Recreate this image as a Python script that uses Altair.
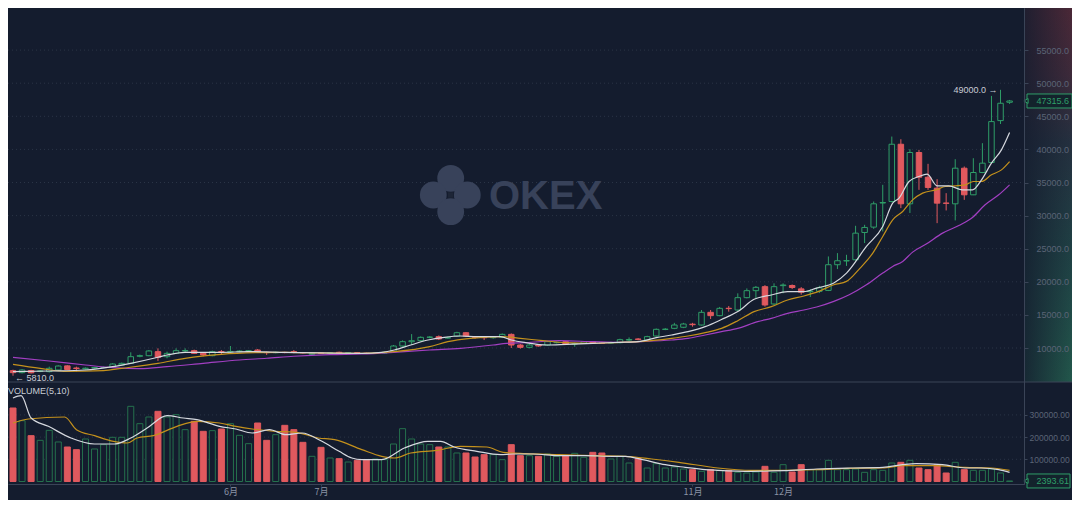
import altair as alt
import pandas as pd

# ---------------- data (3-day candles starting 2020-03-21) ----------------
start_date = "2020-03-21"
candle_days = 3
open_ = [6576, 6274, 6600, 6450, 6430, 6680, 7300, 6980, 6850, 6980,
         7050, 7080, 7430, 7680, 8750, 8840, 9450, 8690, 9190, 9550,
         9600, 9190, 8840, 9450, 9400, 9450, 9500, 9700, 9350, 9290,
         9340, 9450, 9300, 9050, 9220, 9210, 9350, 9250, 9300, 9200,
         9180, 9220, 9446, 10302, 10950, 11100, 11610, 11712, 11500, 11810,
         12310, 11650, 11650, 11550, 11610, 12060, 10450, 10100, 10450, 10450,
         10800, 10960, 10600, 10700, 10950, 10730, 10750, 10800, 11200, 11360,
         11208, 11813, 12800, 12971, 13130, 13600, 13474, 15388, 14884, 16000,
         15740, 17603, 18661, 19265, 16647, 19420, 19440, 18930, 18510, 18560,
         18700, 22580, 23150, 23330, 27450, 28260, 31900, 32130, 40780, 31780,
         39530, 35800, 34150, 31900, 31780, 37160, 33140, 36510, 38020, 44350,
         47120]
high = [6727, 6800, 6700, 6700, 7180, 7380, 7400, 7180, 7050, 7150,
        7200, 7700, 7800, 9350, 9000, 9700, 9950, 9450, 9950, 9950,
        9750, 9300, 9600, 9700, 10300, 9650, 9700, 9850, 9450, 9450,
        9420, 9700, 9400, 9300, 9300, 9350, 9450, 9350, 9400, 9300,
        9300, 9450, 10450, 11150, 12100, 11750, 11800, 11900, 11700, 12450,
        12400, 11750, 11750, 11800, 12200, 12200, 10600, 10600, 10550, 11050,
        10950, 11050, 10800, 11050, 11050, 10850, 10950, 11400, 11600, 11500,
        11850, 12950, 13000, 13800, 13800, 13800, 15740, 15740, 16200, 16340,
        18258, 19000, 19365, 19500, 19770, 19770, 19600, 19200, 18900, 19400,
        23830, 24330, 24080, 28460, 28610, 32130, 34650, 41940, 41540, 40030,
        39930, 37820, 35500, 33390, 38520, 37420, 38670, 40940, 48080, 49000,
        47470]
low = [5810, 6150, 6150, 6350, 6300, 6600, 6650, 6430, 6750, 6900,
       6950, 7000, 7350, 7600, 8600, 8750, 8050, 8440, 9100, 9350,
       9100, 8750, 8750, 9050, 9200, 9350, 9400, 9250, 8950, 9200,
       9200, 9200, 9150, 8950, 9100, 9150, 9150, 9150, 9200, 9100,
       9100, 9150, 9300, 10200, 10450, 11000, 11450, 11200, 11400, 11700,
       11650, 11400, 11200, 11400, 11500, 10000, 9900, 9950, 10200, 10350,
       10700, 10450, 10200, 10600, 10600, 10600, 10650, 10700, 10950, 11150,
       11100, 11700, 12700, 12850, 13000, 13220, 13400, 14380, 14800, 15490,
       15600, 17500, 17503, 16250, 16500, 18260, 18900, 18050, 17700, 18300,
       18600, 21920, 22400, 23200, 25850, 28000, 27600, 32000, 31130, 30400,
       33890, 33890, 28860, 30780, 29270, 32380, 33100, 36410, 37900, 43840,
       46870]
close = [6274, 6677, 6250, 6550, 6930, 7280, 6750, 6900, 6950, 7050,
         7080, 7580, 7680, 8690, 8840, 9550, 8600, 9190, 9600, 9620,
         9190, 8940, 9450, 9400, 9480, 9550, 9600, 9350, 9290, 9350,
         9300, 9380, 9280, 9200, 9200, 9280, 9250, 9280, 9280, 9180,
         9220, 9350, 10302, 10957, 11100, 11610, 11650, 11360, 11560, 12310,
         11810, 11620, 11550, 11650, 12060, 10450, 10100, 10450, 10300, 10960,
         10850, 10600, 10680, 10950, 10720, 10700, 10820, 11260, 11280, 11300,
         11712, 12820, 12850, 13474, 13625, 13520, 15388, 14885, 15992, 15950,
         17603, 18661, 19165, 16496, 19265, 19516, 19140, 18430, 18600, 19100,
         22580, 23180, 23200, 27350, 28210, 31780, 31980, 40780, 31780, 39530,
         35800, 34250, 31880, 31850, 37160, 33140, 36510, 37920, 44200, 46970,
         47315.6]
volume = [331100, 274000, 206500, 185400, 230500, 178000, 155400, 143400, 191500, 146400,
          165900, 199000, 199000, 338600, 260500, 290600, 316100, 290600, 301100, 233500,
          271100, 226000, 229000, 236500, 260500, 208000, 170400, 263500, 185400, 211000,
          253000, 233500, 176400, 113400, 153900, 105900, 102900, 87800, 95400, 98400,
          101400, 98400, 168900, 238000, 191500, 168900, 165900, 155400, 155400, 128400,
          128400, 110400, 120900, 120900, 98400, 165900, 116400, 116400, 113400, 123900,
          113400, 116400, 126900, 108900, 131400, 128400, 101400, 113400, 83300, 102900,
          60800, 80300, 60800, 65300, 56300, 53300, 45800, 53300, 50300, 50300,
          41300, 38300, 42800, 68300, 41300, 75800, 42800, 75800, 53300, 53300,
          95400, 53300, 53300, 56300, 41300, 53300, 50300, 83300, 86400, 95400,
          60800, 53300, 75800, 38300, 86400, 53300, 50300, 50300, 56300, 38300,
          2393.61]

# moving-average lines (candle index, value)
ma5_k = [0, 4, 8, 11, 13, 16, 17, 19, 23, 26, 30, 34, 38.5, 40.7, 42.1, 43.9, 45.8, 47.6, 49.4, 51.2,
         53.8, 55, 56.6, 58.9, 61.1, 64, 66.9, 69, 71, 72.7, 74.5, 76.4, 78.2, 80, 81.8, 83.7, 85.5, 87.3, 88.7, 90.6,
         92, 94.2, 96, 97.1, 97.8, 98.9, 100, 100.9, 102, 103.3, 104.8, 105.9, 106.9, 108, 109.1, 110]
ma5_v = [6425, 6526, 6677, 7180, 7684, 8600, 8943, 9346, 9346, 9446, 9350, 9250, 9194, 9346, 9698, 10453, 11208, 11611, 11812, 11712,
         11712, 11208, 10806, 10453, 10554, 10705, 10856, 10956, 11561, 11964, 12467, 13222, 14300, 15500, 17352, 18006, 18510, 18510, 19054, 19809,
         21318, 25342, 28360, 31881, 32635, 35150, 35905, 36257, 34496, 34496, 33893, 33893, 35402, 37917, 39929, 42544]
ma10_k = [0, 3, 6, 10, 12, 16, 19, 23, 27, 30, 34, 38.5, 42.1, 46, 48, 50.5, 54, 56, 58.5, 61,
          64, 67, 69.1, 72.7, 74.5, 76.4, 78.2, 80, 81.8, 83.7, 85.5, 87.3, 89, 90.6, 92, 93.5, 94.9, 96, 97.1, 98.2,
          99.3, 100.4, 101.9, 102.9, 104, 105.1, 106, 106.9, 108, 109.1, 110]
ma10_v = [7533, 6929, 6450, 6576, 6929, 7684, 8439, 9043, 9296, 9346, 9250, 9194, 9446, 10201, 10957, 11460, 11712, 11460, 11108, 10806,
          10705, 10856, 10956, 11460, 11813, 12316, 12971, 14129, 15488, 16244, 17251, 17855, 18600, 19557, 20060, 22072, 24336, 26851, 29366, 30623,
          32384, 33390, 33893, 34396, 34496, 34647, 35150, 35150, 36156, 36911, 38168]
ma30_k = [0, 4, 8, 11, 14, 17, 21, 25, 28, 31, 35, 38.5, 42, 46, 49.4, 53, 54.5, 56.6, 60.3, 64,
          67, 69.1, 72.7, 74.5, 76.4, 78.2, 80, 82.2, 83.7, 85.5, 87.3, 88.7, 90.6, 92.3, 94.2, 96, 97.1, 98.2, 99.3, 100.8,
          102.6, 104.4, 105.9, 107.3, 108.8, 110]
ma30_v = [8590, 8036, 7432, 7029, 6878, 7180, 7684, 8187, 8450, 8750, 9000, 9100, 9346, 9698, 9950, 10453, 10705, 10806, 11108, 10957,
          10856, 10956, 11208, 11460, 11964, 12467, 12971, 13978, 14482, 15237, 15740, 16187, 17042, 18048, 19557, 21318, 22324, 23078, 24486, 25694,
          27354, 28510, 29718, 31629, 33138, 34647]
vma5_k = [0, 0.9, 2, 3.9, 6.4, 9, 11.2, 13, 14.8, 17, 18.8, 20.3, 22.8, 24.6, 26.4, 28.3, 30.1, 31.9, 34.1, 36,
          37.4, 38.5, 40.7, 43.2, 45.8, 47.2, 48.7, 51.2, 53.8, 55.2, 57.4, 60.3, 63.2, 66.2, 67.6, 69.5, 72, 74.2, 76.4, 77.8,
          81.5, 85.1, 88.7, 92.4, 96, 98.2, 99.7, 102.6, 105.1, 106.9, 108.8, 110]
vma5_v = [376200, 386700, 286000, 248500, 196000, 168900, 168900, 196000, 241000, 296600, 286000, 278600, 248500, 236500, 218500, 233500, 211000, 218500, 181000, 135900,
          105900, 98400, 98400, 150900, 181000, 181000, 155400, 135900, 120900, 123900, 123900, 116400, 116400, 113400, 113400, 98400, 75800, 63800, 53300, 50300,
          45800, 48800, 56300, 60800, 63800, 75800, 80300, 75800, 60800, 60800, 53300, 41300]
vma10_k = [0, 1.7, 5.7, 7, 9, 11.1, 12.6, 13.7, 15.5, 18.1, 20.3, 22.8, 24.6, 26.4, 29, 31.2, 33.7, 35.5, 38.5, 40.7,
           42.1, 43.9, 46.8, 49.4, 52.3, 54.1, 56.6, 60.3, 63.9, 67.6, 70.5, 73.5, 77.8, 81.5, 85.1, 88.7, 92.4, 96, 98.2, 101.5,
           105.1, 108, 110]
vma10_v = [263500, 281600, 290600, 233500, 206500, 180900, 173400, 196000, 206500, 248500, 271100, 263500, 248500, 236500, 226000, 221500, 196000, 188500, 143400, 113400,
           105900, 128400, 140400, 158400, 155400, 131400, 125400, 120900, 116400, 113400, 101400, 86400, 60800, 50300, 50300, 53300, 59300, 60800, 71300, 71300,
           63800, 60800, 50300]

month_ticks = [(2020, 6), (2020, 7), (2020, 11), (2020, 12)]   # labelled months (6月, 7月, 11月, 12月)
price_ticks = [10000, 15000, 20000, 25000, 30000, 35000, 40000, 45000, 50000, 55000]
vol_ticks = [100000, 200000, 300000]

# ---------------- style / layout ----------------
BG = "#141c2e"
GREEN = "#2f9e68"
VGREEN = "#25714d"
RED = "#e0595e"
GRID = "#2a3446"
AXC = "#3a4457"
LBL = "#5b6476"
MLBL = "#8a93a5"
TXT = "#c8ccd4"
WM = "#38425a"
MA5C = "#d6d9df"
MA10C = "#c4911c"
MA30C = "#a23fc2"
FONT = "Liberation Sans"
W, H = 1016, 476          # plot area (price region 0..374, volume region 374..476)
RIGHT, BOTTOM = 48, 16
SPLIT = 374

t0 = pd.Timestamp(start_date)


def to_dates(ks):
    return [(t0 + pd.Timedelta(days=candle_days * k)).strftime("%Y-%m-%dT%H:%M:%S") for k in ks]


n = len(close)
df = pd.DataFrame({"d": to_dates(range(n)), "open": open_, "high": high, "low": low,
                   "close": close, "volume": volume})
one = pd.DataFrame({"a": [0]})

x_end = t0 + pd.Timedelta(days=candle_days * 111.04)
xs = alt.Scale(domain=[alt.DateTime(year=t0.year, month=t0.month, date=t0.day),
                       alt.DateTime(year=x_end.year, month=x_end.month, date=x_end.day,
                                    hours=x_end.hour, minutes=x_end.minute)],
               nice=False)
ps = alt.Scale(domain=[-10544, 61360], nice=False, zero=False)
vs = alt.Scale(domain=[-11261, 2132883], nice=False, zero=False)
rising = alt.datum.close >= alt.datum.open

price_axis = alt.Axis(orient="right", values=price_ticks, format=".1f", grid=False,
                      domain=True, ticks=True, labels=True,
                      domainColor=AXC, tickColor=AXC, tickSize=4, labelColor=LBL,
                      labelFont=FONT, labelFontSize=9, labelPadding=8, title=None, zindex=1)
vol_axis = alt.Axis(orient="right", values=vol_ticks, format=".2f", grid=False,
                    domain=True, ticks=True, labels=True,
                    domainColor=AXC, tickColor=AXC, tickSize=3, labelColor=LBL,
                    labelFont=FONT, labelFontSize=8.5, labelPadding=2, title=None, zindex=1)
x_axis = alt.Axis(orient="bottom",
                  values=[alt.DateTime(year=y, month=m, date=1) for y, m in month_ticks],
                  format="%-m月", formatType="time", grid=False, domain=True,
                  ticks=True, labels=True, domainColor=AXC, tickColor=AXC, tickSize=2,
                  labelColor=MLBL, labelFont="Noto Sans CJK SC", labelFontSize=9,
                  labelPadding=1, labelFlush=False, title=None, zindex=1)

# every layer shares the same x axis definition so the shared axis merges cleanly
X = alt.X("d:T", scale=xs, axis=x_axis)

# right-hand gradient panel
grad_v = alt.Chart(one).mark_rect(fill={
    "gradient": "linear", "x1": 0, "y1": 0, "x2": 0, "y2": 1,
    "stops": [{"offset": 0, "color": "#4b2837"}, {"offset": 0.18, "color": "#3d2a3a"},
              {"offset": 0.36, "color": "#24303f"}, {"offset": 0.65, "color": "#1f4044"},
              {"offset": 1, "color": "#22574b"}]}).encode(
    x=alt.value(W), x2=alt.value(W + RIGHT), y=alt.value(0), y2=alt.value(SPLIT))
grad_h = alt.Chart(one).mark_rect(fill={
    "gradient": "linear", "x1": 0, "y1": 0, "x2": 1, "y2": 0,
    "stops": [{"offset": 0, "color": "rgba(20,28,46,0.8)"},
              {"offset": 1, "color": "rgba(20,28,46,0)"}]}).encode(
    x=alt.value(W), x2=alt.value(W + RIGHT), y=alt.value(0), y2=alt.value(SPLIT))

pgrid = alt.Chart(pd.DataFrame({"v": price_ticks})).mark_rule(
    color=GRID, strokeDash=[1, 3], strokeWidth=1).encode(
    x=alt.value(0), x2=alt.value(W), y=alt.Y("v:Q", scale=ps, axis=None))
vgrid = alt.Chart(pd.DataFrame({"v": vol_ticks})).mark_rule(
    color=GRID, strokeDash=[1, 3], strokeWidth=1).encode(
    x=alt.value(0), x2=alt.value(W), y=alt.Y("v:Q", scale=vs, axis=None))

# watermark
wm_layers = []
for cx, cy in [(442.7, 170.3), (425.3, 187), (459.3, 187), (442.7, 203.7)]:
    wm_layers.append(alt.Chart(one).mark_circle(size=720, color=WM, opacity=1).encode(
        x=alt.value(cx), y=alt.value(cy)))
wm_layers.append(alt.Chart(one).mark_square(size=30, color="#1d2536", opacity=1).encode(
    x=alt.value(442.7), y=alt.value(187)))
wm_layers.append(alt.Chart(one).mark_text(text="OKEX", font=FONT, fontWeight="bold", fontSize=40,
                                          align="left", baseline="middle", color=WM).encode(
    x=alt.value(481), y=alt.value(189)))

# candles
wick = alt.Chart(df).mark_rule(strokeWidth=1).encode(
    x=X, y=alt.Y("low:Q", scale=ps, axis=price_axis), y2="high:Q",
    color=alt.condition(rising, alt.value(GREEN), alt.value(RED)))
body = alt.Chart(df).mark_bar(size=5.5, strokeWidth=1).encode(
    x=X, y=alt.Y("open:Q", scale=ps, axis=None), y2="close:Q",
    fill=alt.condition(rising, alt.value(BG), alt.value(RED)),
    stroke=alt.condition(rising, alt.value(GREEN), alt.value(RED)))


def line_layer(ks, vals, color, scale):
    d = pd.DataFrame({"d": to_dates(ks), "v": vals})
    return alt.Chart(d).mark_line(color=color, strokeWidth=1.2, interpolate="monotone").encode(
        x=X, y=alt.Y("v:Q", scale=scale, axis=None))


ma30 = line_layer(ma30_k, ma30_v, MA30C, ps)
ma10 = line_layer(ma10_k, ma10_v, MA10C, ps)
ma5 = line_layer(ma5_k, ma5_v, MA5C, ps)

hi_k = high.index(max(high))
lo_k = low.index(min(low))
ann_hi = alt.Chart(pd.DataFrame({"d": to_dates([hi_k]), "p": [high[hi_k]],
                                 "t": [f"{high[hi_k]:.1f} →"]})).mark_text(
    align="right", baseline="middle", dx=-3, fontSize=9, font=FONT, color=TXT).encode(
    x=X, y=alt.Y("p:Q", scale=ps, axis=None), text="t:N")
ann_lo = alt.Chart(pd.DataFrame({"d": to_dates([lo_k]), "p": [low[lo_k]],
                                 "t": [f"← {low[lo_k]:.1f}"]})).mark_text(
    align="left", baseline="middle", dx=2, dy=2, fontSize=9, font=FONT, color=TXT).encode(
    x=X, y=alt.Y("p:Q", scale=ps, axis=None), text="t:N")

last = pd.DataFrame({"p": [close[-1]]})
pbox = alt.Chart(last).transform_calculate(top="datum.p + 1057", bot="datum.p - 1057").mark_rect(
    fill="#13232c", stroke=GREEN, strokeWidth=1).encode(
    x=alt.value(W + 3), x2=alt.value(W + RIGHT), y=alt.Y("top:Q", scale=ps, axis=None), y2="bot:Q")
ptri = alt.Chart(last).mark_point(shape="triangle-left", size=24, filled=True, fill="#13232c",
                                  stroke=GREEN, strokeWidth=1, opacity=1).encode(
    x=alt.value(W + 2), y=alt.Y("p:Q", scale=ps, axis=None))
ptxt = alt.Chart(last).mark_text(align="left", baseline="middle", fontSize=9, font=FONT,
                                 color=GREEN).encode(
    x=alt.value(W + 12.5), y=alt.Y("p:Q", scale=ps, axis=None),
    text=alt.Text("p:Q", format=".1f"))
sep = alt.Chart(one).mark_rule(color=AXC, strokeWidth=1).encode(
    x=alt.value(0), x2=alt.value(W + RIGHT), y=alt.value(SPLIT))

# volume
vbars = alt.Chart(df).mark_bar(size=6, strokeWidth=1).encode(
    x=X,
    y=alt.Y("volume:Q", scale=vs, axis=vol_axis, stack=None),
    fill=alt.condition(rising, alt.value(BG), alt.value(RED)),
    stroke=alt.condition(rising, alt.value(VGREEN), alt.value(RED)))
vma10 = line_layer(vma10_k, vma10_v, MA10C, vs)
vma5 = line_layer(vma5_k, vma5_v, MA5C, vs)
vtitle = alt.Chart(one).mark_text(text="VOLUME(5,10)", align="left", baseline="middle",
                                  fontSize=9, font=FONT, color=TXT).encode(
    x=alt.value(0), y=alt.value(SPLIT + 8.5))
vlast = pd.DataFrame({"v": [volume[-1]]})
vbox = alt.Chart(vlast).transform_calculate(top="datum.v + 31500", bot="datum.v - 31500").mark_rect(
    fill="#13232c", stroke=GREEN, strokeWidth=1).encode(
    x=alt.value(W + 3), x2=alt.value(W + RIGHT - 2), y=alt.Y("top:Q", scale=vs, axis=None), y2="bot:Q")
vtri = alt.Chart(vlast).mark_point(shape="triangle-left", size=24, filled=True, fill="#13232c",
                                   stroke=GREEN, strokeWidth=1, opacity=1).encode(
    x=alt.value(W + 2), y=alt.Y("v:Q", scale=vs, axis=None))
vtxt = alt.Chart(vlast).mark_text(align="left", baseline="middle", fontSize=9, font=FONT,
                                  color=GREEN).encode(
    x=alt.value(W + 12.5), y=alt.Y("v:Q", scale=vs, axis=None),
    text=alt.Text("v:Q", format=".2f"))

chart = alt.layer(
    grad_v, grad_h, pgrid, vgrid, *wm_layers,
    wick, body, ma30, ma10, ma5, ann_hi, ann_lo,
    vbars, vma10, vma5, vtitle,
    pbox, ptri, ptxt, vbox, vtri, vtxt, sep,
).resolve_scale(y="independent").properties(
    width=W, height=H, background=BG,
    autosize=alt.AutoSizeParams(type="none"),
    padding={"left": 0, "top": 0, "right": RIGHT, "bottom": BOTTOM},
).configure_view(strokeWidth=0)

chart.save("out.html", embed_options={"renderer": "svg", "actions": False})
